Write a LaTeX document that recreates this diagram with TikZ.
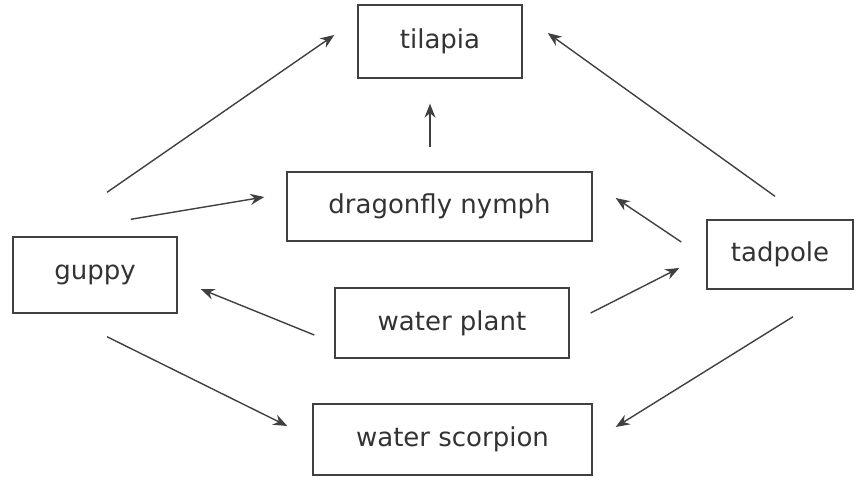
\documentclass[tikz,border=0pt]{standalone}
\usepackage{fontspec}
\setmainfont{DejaVu Sans}
\usetikzlibrary{arrows.meta, positioning, calc}

\begin{document}
\begin{tikzpicture}[x=0.5pt, y=-0.5pt, font=\fontsize{13}{15}\selectfont,
    every node/.style={align=center, text=black!80},
    animal/.style={draw=black!75, line width=0.7pt, inner sep=0pt},
    eats/.style={draw=black!75, line width=0.7pt, -{Stealth[length=7pt, width=5.5pt]}}]
    \useasboundingbox (0,0) rectangle (858,477);

    \node[animal, minimum width=82pt, minimum height=36.5pt] (tilapia) at (440,41.5) {tilapia};
    \node[animal, minimum width=152.5pt, minimum height=34.5pt] (nymph) at (439.5,206.5) {dragonfly nymph};
    \node[animal, minimum width=82pt, minimum height=38pt] (guppy) at (95,275) {guppy};
    \node[animal, minimum width=73pt, minimum height=34.5pt] (tadpole) at (780,254.5) {tadpole};
    \node[animal, minimum width=117pt, minimum height=35pt] (plant) at (452,323) {water plant};
    \node[animal, minimum width=139.5pt, minimum height=35.5pt] (scorpion) at (452.5,439.5) {water scorpion};

    % who is eaten by whom
    \draw[eats] ([shift={(12,-44)}]guppy.north) -- ([shift={(-23,-6.5)}]tilapia.west);
    \draw[eats] ([shift={(-47,-17)}]guppy.north east) -- ([shift={(-22,-9.5)}]nymph.west);
    \draw[eats] ([shift={(-9.5,-24)}]nymph.north) -- ([shift={(-10,25)}]tilapia.south);
    \draw[eats] ([shift={(-5,-23)}]tadpole.north) -- ([shift={(25,-8.5)}]tilapia.east);
    \draw[eats] ([shift={(-25,-12.5)}]tadpole.west) -- ([shift={(23,-8.5)}]nymph.east);
    \draw[eats] ([shift={(21,-10)}]plant.east) -- ([shift={(-27,13.5)}]tadpole.west);
    \draw[eats] ([shift={(-20,12)}]plant.west) -- ([shift={(23,14)}]guppy.east);
    \draw[eats] ([shift={(12,23)}]guppy.south) -- ([shift={(-25,-13.5)}]scorpion.west);
    \draw[eats] ([shift={(13,27)}]tadpole.south) -- ([shift={(23,-12.5)}]scorpion.east);
\end{tikzpicture}
\end{document}
